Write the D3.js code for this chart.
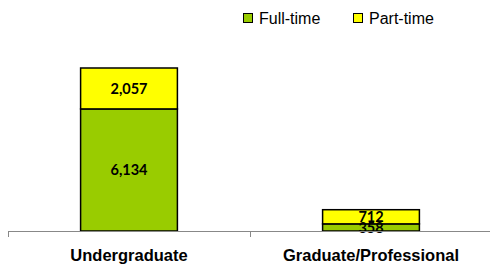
<!DOCTYPE html>
<html><head><meta charset="utf-8">
<script src="https://cdn.jsdelivr.net/npm/d3@7"></script>
<style>body{margin:0;background:#fff}</style>
</head><body>
<script>
const categories = ["Undergraduate", "Graduate/Professional"];
const seriesNames = ["Full-time", "Part-time"];
const fullTime = [6134, 358];
const partTime = [2057, 712];
const colors = ["#99CC00", "#FFFF00"];

const W = 490, H = 266;
const svg = d3.select("body").append("svg").attr("width", W).attr("height", H);

const x = d3.scaleBand().domain(categories).range([8, 492]).paddingInner(0.6).paddingOuter(0.3);
const y = d3.scaleLinear().domain([0, 10000]).range([231, 32]);

const data = categories.map((c, i) => ({cat: c, "Full-time": fullTime[i], "Part-time": partTime[i]}));
const stack = d3.stack().keys(seriesNames)(data);

const fmt = d3.format(",");
stack.forEach((s, si) => {
  const g = svg.append("g");
  g.selectAll("rect").data(s).join("rect")
    .attr("x", d => x(d.data.cat))
    .attr("y", d => y(d[1]))
    .attr("width", x.bandwidth())
    .attr("height", d => y(d[0]) - y(d[1]))
    .attr("fill", colors[si])
    .attr("stroke", "#000")
    .attr("stroke-width", 1.5);
});
stack.forEach((s, si) => {
  svg.append("g").selectAll("text").data(s).join("text")
    .attr("x", d => x(d.data.cat) + x.bandwidth() / 2)
    .attr("y", d => (y(d[0]) + y(d[1])) / 2)
    .attr("dy", "0.36em")
    .attr("text-anchor", "middle")
    .attr("font-family", "Lato, 'Open Sans', sans-serif")
    .attr("font-weight", "bold")
    .attr("font-size", 14.5)
    .attr("fill", "#000")
    .text(d => fmt(d[1] - d[0]));
});

// axis
const axis = svg.append("g");
axis.append("line").attr("x1", 8).attr("x2", 492).attr("y1", 231.5).attr("y2", 231.5)
  .attr("stroke", "#888").attr("stroke-width", 1);
const bounds = [x.range()[0], ...categories.slice(1).map(c => x(c) - x.step() * x.paddingInner() / 2)];
axis.selectAll("line.tick").data(bounds).join("line").attr("class", "tick")
  .attr("x1", d => Math.round(d) + 0.5).attr("x2", d => Math.round(d) + 0.5)
  .attr("y1", 231).attr("y2", 237).attr("stroke", "#888");
axis.selectAll("text").data(categories).join("text")
  .attr("x", d => x(d) + x.bandwidth() / 2)
  .attr("y", 261)
  .attr("text-anchor", "middle")
  .attr("font-family", "'Liberation Sans', Arial, sans-serif")
  .attr("font-weight", "bold")
  .attr("font-size", 16.5)
  .text(d => d);

// legend
const legendX = [243, 353];
const leg = svg.append("g");
seriesNames.forEach((n, i) => {
  leg.append("rect").attr("x", legendX[i] + 0.5).attr("y", 13.5).attr("width", 9).attr("height", 9)
    .attr("fill", colors[i]).attr("stroke", "#000").attr("stroke-width", 1);
  leg.append("text").attr("x", legendX[i] + 16).attr("y", 24)
    .attr("font-family", "'Liberation Sans', Arial, sans-serif")
    .attr("font-size", 16).text(n);
});
</script>
</body></html>
